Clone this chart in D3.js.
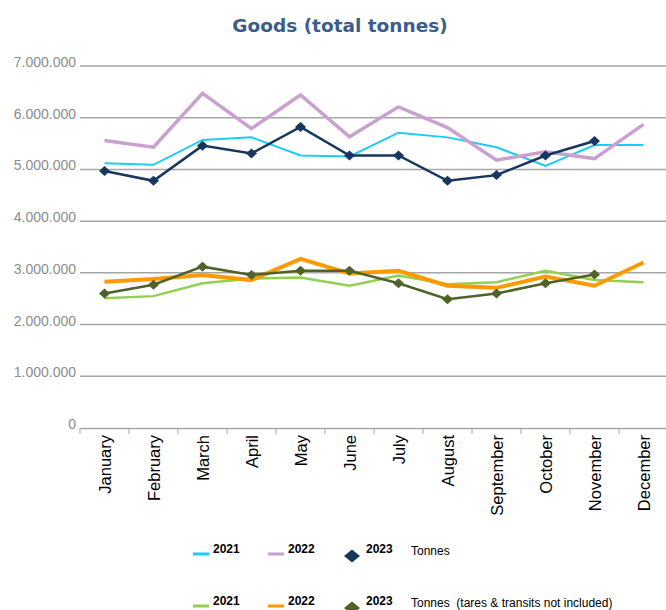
<!DOCTYPE html>
<html><head><meta charset="utf-8">
<script src="https://cdn.jsdelivr.net/npm/d3@7"></script>
<style>body{margin:0;background:#fff}</style>
</head><body><svg id="c" width="666" height="610"></svg>
<script>
const months = ["January","February","March","April","May","June","July","August","September","October","November","December"];
const yTicks = [0,1000000,2000000,3000000,4000000,5000000,6000000,7000000];
const tonnes2021 = [5120000,5090000,5570000,5620000,5270000,5250000,5710000,5620000,5430000,5070000,5470000,5470000];
const tonnes2022 = [5560000,5430000,6470000,5790000,6440000,5630000,6210000,5810000,5180000,5340000,5210000,5870000];
const tonnes2023 = [4970000,4780000,5460000,5310000,5820000,5270000,5270000,4780000,4890000,5270000,5550000,null];
const net2021 = [2510000,2550000,2800000,2890000,2910000,2750000,2950000,2780000,2820000,3040000,2860000,2820000];
const net2022 = [2830000,2880000,2960000,2860000,3270000,2990000,3040000,2750000,2710000,2930000,2750000,3200000];
const net2023 = [2600000,2770000,3120000,2960000,3040000,3040000,2800000,2490000,2600000,2800000,2970000,null];

const series = [
  {name:"2021", values:tonnes2021, color:"#1ccbf7", width:2, marker:false},
  {name:"2022", values:tonnes2022, color:"#c9a0d0", width:3.5, marker:false},
  {name:"2023", values:tonnes2023, color:"#17375e", width:2.5, marker:true},
  {name:"2021", values:net2021, color:"#92d050", width:2.5, marker:false},
  {name:"2022", values:net2022, color:"#ff9900", width:4, marker:false},
  {name:"2023", values:net2023, color:"#4f6228", width:2.5, marker:true}
];

const svg = d3.select("#c");
const x = d3.scaleBand().domain(months).range([80,668]);
const y = d3.scaleLinear().domain([0,7000000]).range([428,66]);
const fmt = v => d3.format(",")(v).replace(/,/g,".");

svg.append("text").attr("x",340).attr("y",32).attr("text-anchor","middle")
  .attr("font-family","DejaVu Sans").attr("font-weight","bold").attr("font-size",18.5)
  .attr("fill","#3a5d8c").text("Goods (total tonnes)");

// gridlines
svg.append("g").selectAll("line").data(yTicks.filter(d=>d>0)).join("line")
  .attr("x1",80).attr("x2",666).attr("y1",d=>y(d)).attr("y2",d=>y(d))
  .attr("stroke","#a6a6a6").attr("stroke-width",1.5);

// y labels
svg.append("g").selectAll("text").data(yTicks).join("text")
  .attr("x",76).attr("y",d=>y(d)+1).attr("text-anchor","end")
  .attr("font-family","Liberation Sans, Arial").attr("font-size",14).attr("fill","#8c8c8c")
  .text(d=>fmt(d));

// x axis
const xAxis = d3.axisBottom(x).tickSize(0).tickFormat("");
const gx = svg.append("g").attr("transform","translate(0,428)").call(xAxis);
gx.select(".domain").attr("stroke","#a6a6a6").attr("stroke-width",1.5);
gx.selectAll(".tick").remove();
const bounds = months.map(m=>x(m)).concat([x.range()[1]]);
svg.append("g").selectAll("line").data(bounds).join("line")
  .attr("x1",d=>d).attr("x2",d=>d).attr("y1",428).attr("y2",434)
  .attr("stroke","#a6a6a6").attr("stroke-width",1);
svg.append("g").selectAll("text").data(months).join("text")
  .attr("transform",d=>`translate(${x(d)+x.bandwidth()/2+6},435) rotate(-90)`)
  .attr("text-anchor","end").attr("font-family","Liberation Sans, Arial").attr("font-size",16.5)
  .attr("fill","#000").text(d=>d);

const line = d3.line().defined(d=>d.v!=null).x(d=>x(d.m)+x.bandwidth()/2).y(d=>y(d.v));
const diamond = "M0,-5L5.5,0L0,5L-5.5,0Z";
const bigDiamond = "M0,-6.5L8,0L0,6.5L-8,0Z";
series.forEach(s=>{
  const pts = months.map((m,i)=>({m, v:s.values[i]}));
  svg.append("path").datum(pts).attr("d",line).attr("fill","none")
    .attr("stroke",s.color).attr("stroke-width",s.width).attr("stroke-linejoin","miter");
  if(s.marker){
    svg.append("g").selectAll("path").data(pts.filter(d=>d.v!=null)).join("path")
      .attr("d",diamond).attr("transform",d=>`translate(${x(d.m)+x.bandwidth()/2},${y(d.v)})`)
      .attr("fill",s.color);
  }
});

// legend
const legRows = [{y:553, items:series.slice(0,3), label:"Tonnes"},{y:605, items:series.slice(3,6), label:"Tonnes  (tares & transits not included)"}];
const legX = [193,268,346];
legRows.forEach(r=>{
  const g = svg.append("g");
  r.items.forEach((s,i)=>{
    if(s.marker){
      g.append("path").attr("d",bigDiamond).attr("transform",`translate(${legX[i]+6},${r.y+3})`).attr("fill",s.color);
    } else {
      g.append("line").attr("x1",legX[i]).attr("x2",legX[i]+16).attr("y1",r.y+1).attr("y2",r.y+1)
        .attr("stroke",s.color).attr("stroke-width",3);
    }
    g.append("text").attr("x",legX[i]+20).attr("y",r.y).attr("font-family","Liberation Sans, Arial")
      .attr("font-weight","bold").attr("font-size",12).attr("fill","#000").text(s.name);
  });
  g.append("text").attr("x",411).attr("y",r.y+2).attr("font-family","Liberation Sans, Arial")
    .attr("font-size",12).attr("fill","#000").text(r.label).style("white-space","pre");
});
</script></body></html>
